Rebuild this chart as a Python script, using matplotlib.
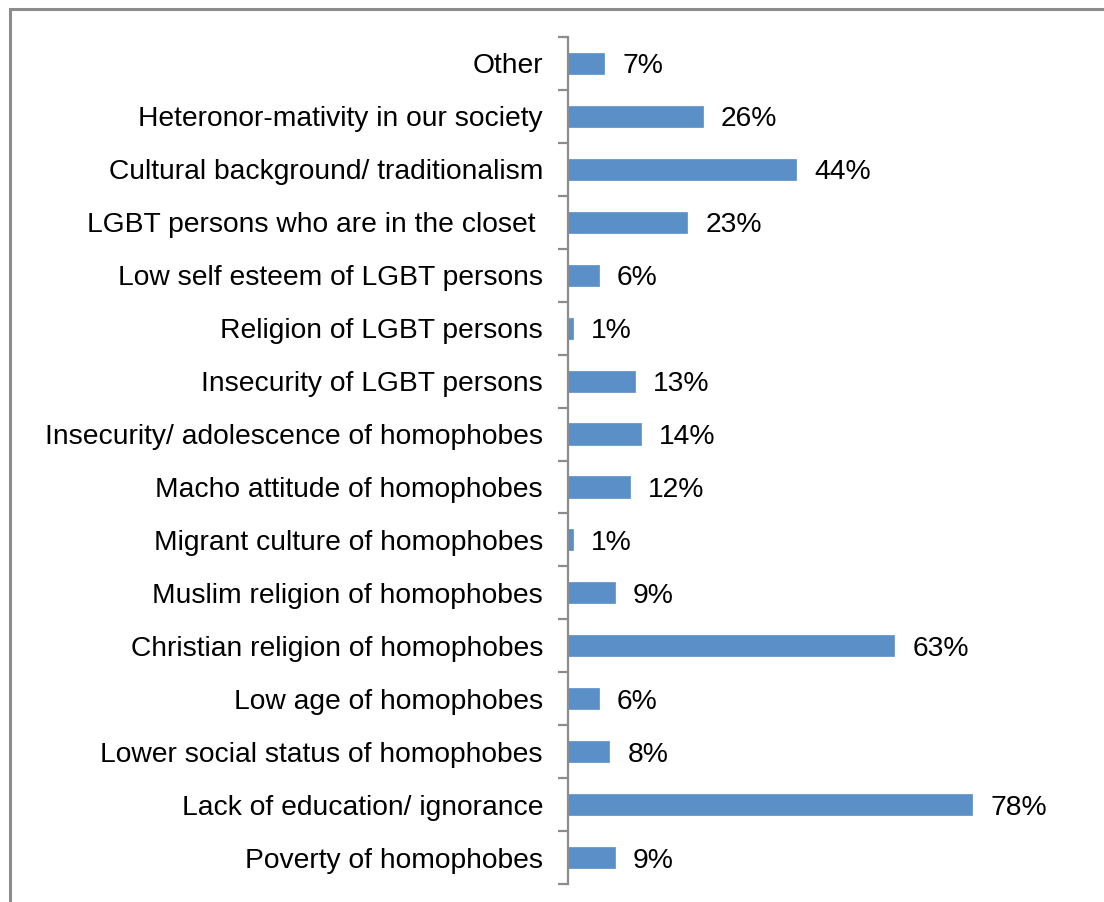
import matplotlib
matplotlib.use("Agg")
import matplotlib.pyplot as plt
from matplotlib.patches import Rectangle

plt.rcParams['font.family'] = ['Liberation Sans', 'DejaVu Sans']

# causes of homophobia, listed bottom to top
causes = ["Poverty of homophobes",
          "Lack of education/ ignorance",
          "Lower social status of homophobes",
          "Low age of homophobes",
          "Christian religion of homophobes",
          "Muslim religion of homophobes",
          "Migrant culture of homophobes",
          "Macho attitude of homophobes",
          "Insecurity/ adolescence of homophobes",
          "Insecurity of LGBT persons",
          "Religion of LGBT persons",
          "Low self esteem of LGBT persons",
          "LGBT persons who are in the closet ",
          "Cultural background/ traditionalism",
          "Heteronor-mativity in our society",
          "Other"]
pct = [9, 78, 8, 6, 63, 9, 1, 12, 14, 13, 1, 6, 23, 44, 26, 7]

W, H = 1104, 902
fs = 20.3
fig = plt.figure(figsize=(W / 100, H / 100), dpi=100)

# grey frame round the chart area
fig.patches.append(Rectangle((10 / W, -0.01), 1.1, 1 - 9 / H + 0.01,
                             transform=fig.transFigure, fill=False,
                             edgecolor="#8c8c8c", linewidth=2.2))

ax = fig.add_axes([568 / W, 1 - 884 / H, (1086 - 568) / W, (884 - 37) / H])
y = range(len(causes))
ax.barh(y, pct, height=0.4, color="#5b8fc7", edgecolor="#5b8fc7", linewidth=0.5)
ax.set_xlim(0, 100)
ax.set_ylim(-0.5, len(causes) - 0.5)

for i, v in enumerate(pct):
    ax.annotate(f"{v}%", (v, i), xytext=(18, 0), textcoords="offset pixels",
                va="center_baseline", ha="left", fontsize=fs)

for s in ["top", "right", "bottom"]:
    ax.spines[s].set_visible(False)
ax.spines["left"].set_color("#8c8c8c")
ax.spines["left"].set_linewidth(1.6)

ax.set_xticks([])
# category boundaries get the tick marks, labels sit between them
ax.set_yticks([i - 0.5 for i in range(len(causes) + 1)])
ax.set_yticklabels([])
ax.set_yticks(list(y), minor=True)
ax.set_yticklabels(causes, minor=True, fontsize=fs, va="center_baseline")
ax.tick_params(axis="y", which="major", length=7, width=1.6, color="#8c8c8c")
ax.tick_params(axis="y", which="minor", length=0, pad=18)

fig.savefig("out.png", dpi=100)
